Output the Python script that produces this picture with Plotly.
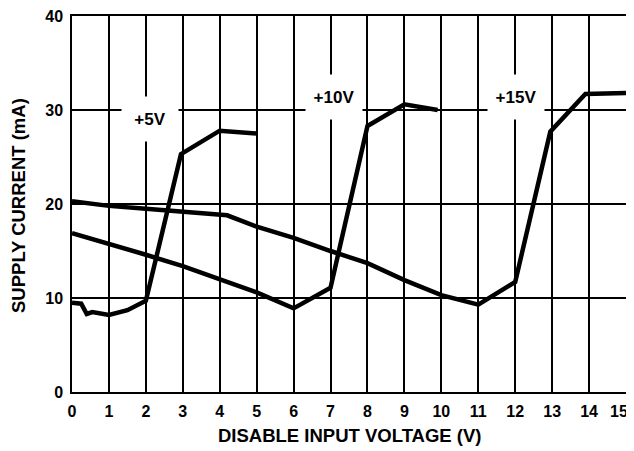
import plotly.graph_objects as go

# supply current (mA) vs disable input voltage (V), one curve per supply
v_5 = [0, 0.25, 0.4, 0.55, 1.0, 1.5, 2.0, 2.95, 4.0, 5.0]
i_5 = [9.5, 9.4, 8.3, 8.5, 8.2, 8.7, 9.7, 25.3, 27.8, 27.5]

v_10 = [0, 1, 2, 3, 4, 5, 6, 7, 8, 9, 9.9]
i_10 = [16.9, 15.8, 14.6, 13.4, 12.0, 10.6, 8.9, 11.1, 28.3, 30.6, 30.0]

v_15 = [0, 1, 2, 3, 4.2, 5, 6, 7, 8, 9, 10, 11, 12, 12.95, 13.9, 15]
i_15 = [20.3, 19.8, 19.5, 19.2, 18.8, 17.6, 16.4, 15.0, 13.7, 11.9, 10.3, 9.3, 11.7, 27.7, 31.7, 31.8]

label_text = ["+5V", "+10V", "+15V"]
label_x = [2.12, 7.1, 12.02]
label_y = [29.0, 31.4, 31.4]

x_ticks = list(range(0, 16))
y_ticks = [0, 10, 20, 30, 40]

FONT = "Liberation Sans, Arial, sans-serif"

fig = go.Figure()
for xs, ys in [(v_5, i_5), (v_10, i_10), (v_15, i_15)]:
    fig.add_trace(go.Scatter(x=xs, y=ys, mode="lines",
                             line=dict(color="black", width=4.5),
                             showlegend=False, hoverinfo="skip"))

for txt, lx, ly in zip(label_text, label_x, label_y):
    fig.add_annotation(x=lx, y=ly, text=f"<b>{txt}</b>", showarrow=False,
                       bgcolor="white", width=54, height=42,
                       font=dict(family=FONT, size=17, color="black"))

# last x tick label is drawn as an annotation so it is not clipped at the edge
fig.add_annotation(x=x_ticks[-1], y=0, yref="y", xanchor="right", xshift=4,
                   yshift=-19, yanchor="middle", showarrow=False,
                   text=f"<b>{x_ticks[-1]}</b>",
                   font=dict(family=FONT, size=16, color="black"))

# axis titles placed by hand
fig.add_annotation(xref="paper", yref="paper", x=0.5, y=0, yshift=-43,
                   yanchor="middle", showarrow=False,
                   text="<b>DISABLE INPUT VOLTAGE (V)</b>",
                   font=dict(family=FONT, size=18.5, color="black"))
fig.add_annotation(xref="paper", yref="paper", x=0, y=0.5, xshift=-54,
                   yshift=-2, xanchor="center", showarrow=False, textangle=-90,
                   text="<b>SUPPLY CURRENT (mA)</b>",
                   font=dict(family=FONT, size=18.5, color="black"))

axis_common = dict(showgrid=True, gridcolor="black", gridwidth=1.5,
                   showline=True, linecolor="black", linewidth=1.5, mirror=True,
                   zeroline=False, ticks="", automargin=False,
                   ticklabeloverflow="allow",
                   tickfont=dict(family=FONT, size=16, color="black", weight="bold"))

fig.update_xaxes(range=[0, 15], tickvals=x_ticks[:-1], ticklabelstandoff=4,
                 **axis_common)
fig.update_yaxes(range=[0, 40], tickvals=y_ticks, ticklabelstandoff=4,
                 **axis_common)

# the page body adds an 8px margin, so the figure is sized to fit the window
fig.update_layout(width=626, height=443,
                  margin=dict(l=64, r=8, t=8, b=59),
                  plot_bgcolor="white", paper_bgcolor="white")

fig.write_html("out.html")
